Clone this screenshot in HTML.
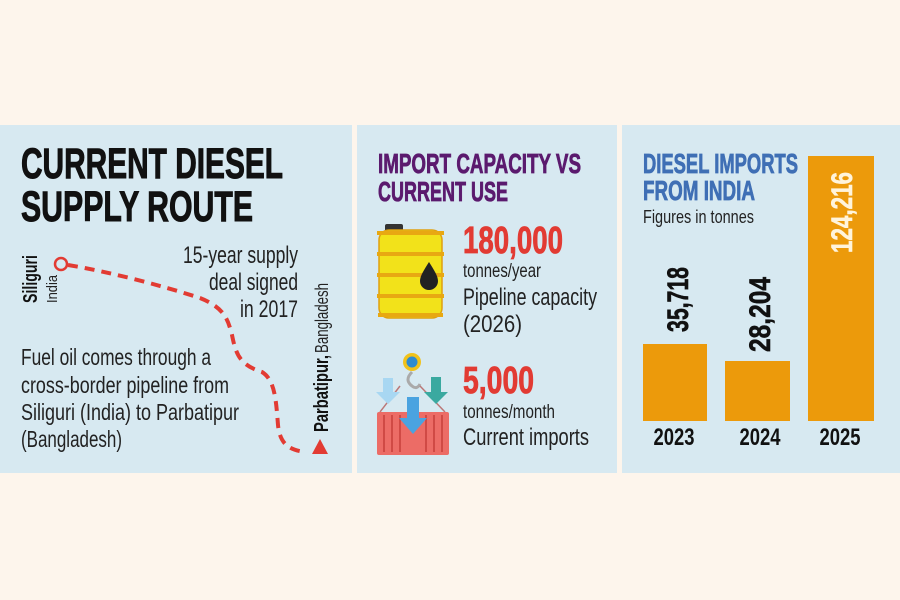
<!DOCTYPE html>
<html><head><meta charset="utf-8"><style>
html,body{margin:0;padding:0;background:#fdf5ec;}
svg{display:block}
text{font-family:"Liberation Sans",sans-serif}
</style></head><body>
<svg width="900" height="600" viewBox="0 0 900 600" xmlns="http://www.w3.org/2000/svg">
<rect width="900" height="600" fill="#fdf5ec"/>
<rect x="0" y="125" width="352" height="348" fill="#d7e9f1"/>
<rect x="357" y="125" width="260" height="348" fill="#d7e9f1"/>
<rect x="622" y="125" width="278" height="348" fill="#d7e9f1"/>

<!-- Panel 1 -->
<g font-weight="bold" fill="#111" font-size="43" stroke="#111" stroke-width="1">
<text x="21" y="178" textLength="262" lengthAdjust="spacingAndGlyphs">CURRENT DIESEL</text>
<text x="21" y="221" textLength="232" lengthAdjust="spacingAndGlyphs">SUPPLY ROUTE</text>
</g>
<g fill="#222" font-size="24" text-anchor="end">
<text x="298" y="263" textLength="115" lengthAdjust="spacingAndGlyphs">15-year supply</text>
<text x="298" y="290" textLength="89" lengthAdjust="spacingAndGlyphs">deal signed</text>
<text x="298" y="317" textLength="58" lengthAdjust="spacingAndGlyphs">in 2017</text>
</g>
<g fill="#222" font-size="23">
<text x="21" y="365" textLength="190" lengthAdjust="spacingAndGlyphs">Fuel oil comes through a</text>
<text x="21" y="393" textLength="208" lengthAdjust="spacingAndGlyphs">cross-border pipeline from</text>
<text x="21" y="420" textLength="218" lengthAdjust="spacingAndGlyphs">Siliguri (India) to Parbatipur</text>
<text x="21" y="447" textLength="101" lengthAdjust="spacingAndGlyphs">(Bangladesh)</text>
</g>
<text transform="translate(37,303) rotate(-90)" font-size="20" font-weight="bold" fill="#111" textLength="48" lengthAdjust="spacingAndGlyphs">Siliguri</text>
<text transform="translate(57,303) rotate(-90)" font-size="15" fill="#222" textLength="28" lengthAdjust="spacingAndGlyphs">India</text>
<text transform="translate(328,432) rotate(-90)" font-size="20" font-weight="bold" fill="#111" textLength="77" lengthAdjust="spacingAndGlyphs">Parbatipur,</text>
<text transform="translate(328,353) rotate(-90)" font-size="18" fill="#222" textLength="70" lengthAdjust="spacingAndGlyphs">Bangladesh</text>
<circle cx="61" cy="264" r="6" fill="none" stroke="#e23b33" stroke-width="2.5"/>
<path d="M68,265 C110,272 160,285 200,298 C225,308 228,320 232,335 C236,355 240,365 262,372 C275,380 276,400 278,425 C280,445 290,450 305,452" fill="none" stroke="#e23b33" stroke-width="4" stroke-dasharray="10,7"/>
<polygon points="312,454 320,439 328,454" fill="#e23b33"/>

<!-- Panel 2 -->
<g font-weight="bold" fill="#5b1a6e" font-size="28" stroke="#5b1a6e" stroke-width="0.8">
<text x="378" y="173" textLength="203" lengthAdjust="spacingAndGlyphs">IMPORT CAPACITY VS</text>
<text x="378" y="201" textLength="130" lengthAdjust="spacingAndGlyphs">CURRENT USE</text>
</g>
<!-- barrel -->
<rect x="385" y="224" width="18" height="8" rx="2" fill="#333"/>
<rect x="379" y="230" width="63" height="88" rx="10" fill="#f2e21a"/>
<rect x="379" y="230" width="63" height="88" rx="10" fill="none" stroke="#e0a010" stroke-width="1.5"/>
<g stroke="#e8a812" stroke-width="4">
<line x1="377" y1="233" x2="444" y2="233"/><line x1="377" y1="254" x2="444" y2="254"/>
<line x1="377" y1="275" x2="444" y2="275"/><line x1="377" y1="296" x2="444" y2="296"/>
<line x1="378" y1="315" x2="443" y2="315"/>
</g>
<path d="M429,262 C424,270 420,276 420,281 A9,9 0 0 0 438,281 C438,276 434,270 429,262Z" fill="#222"/>
<!-- crate -->
<circle cx="412" cy="362" r="9" fill="#f1c21b"/><circle cx="412" cy="362" r="5.5" fill="#2f8bd0"/>
<path d="M412,372 q-8,8 0,14 q5,4 8,-2" fill="none" stroke="#aaa" stroke-width="3"/>
<line x1="400" y1="386" x2="380" y2="412" stroke="#b77" stroke-width="1.5"/>
<line x1="420" y1="386" x2="445" y2="412" stroke="#b77" stroke-width="1.5"/>
<rect x="377" y="412" width="72" height="43" rx="2" fill="#ec6c66"/>
<g stroke="#d04a45" stroke-width="2">
<line x1="384" y1="415" x2="384" y2="452"/><line x1="392" y1="415" x2="392" y2="452"/><line x1="400" y1="415" x2="400" y2="452"/>
<line x1="426" y1="415" x2="426" y2="452"/><line x1="434" y1="415" x2="434" y2="452"/><line x1="442" y1="415" x2="442" y2="452"/>
</g>
<polygon points="383,378 393,378 393,392 400,392 388,404 376,392 383,392" fill="#a8d7f2"/>
<polygon points="431,377 441,377 441,392 448,392 436,404 424,392 431,392" fill="#3aa9a0"/>
<polygon points="407,397 419,397 419,418 427,418 413,434 399,418 407,418" fill="#4aa3e0"/>

<g font-weight="bold" fill="#e23b33" font-size="38" stroke="#e23b33" stroke-width="0.8">
<text x="463" y="253" textLength="100" lengthAdjust="spacingAndGlyphs">180,000</text>
<text x="463" y="393" textLength="71" lengthAdjust="spacingAndGlyphs">5,000</text>
</g>
<g fill="#222">
<text x="463" y="277" font-size="19" textLength="78" lengthAdjust="spacingAndGlyphs">tonnes/year</text>
<text x="463" y="305" font-size="24" textLength="134" lengthAdjust="spacingAndGlyphs">Pipeline capacity</text>
<text x="463" y="332" font-size="24" textLength="59" lengthAdjust="spacingAndGlyphs">(2026)</text>
<text x="463" y="418" font-size="19" textLength="92" lengthAdjust="spacingAndGlyphs">tonnes/month</text>
<text x="463" y="445" font-size="24" textLength="126" lengthAdjust="spacingAndGlyphs">Current imports</text>
</g>

<!-- Panel 3 -->
<g font-weight="bold" fill="#3f6fb5" font-size="28" stroke="#3f6fb5" stroke-width="0.8">
<text x="643" y="173" textLength="155" lengthAdjust="spacingAndGlyphs">DIESEL IMPORTS</text>
<text x="643" y="200" textLength="112" lengthAdjust="spacingAndGlyphs">FROM INDIA</text>
</g>
<text x="643" y="223" font-size="18" fill="#222" textLength="111" lengthAdjust="spacingAndGlyphs">Figures in tonnes</text>
<g fill="#ec9a0b">
<rect x="643" y="344" width="64" height="77"/>
<rect x="725" y="361" width="65" height="60"/>
<rect x="808" y="156" width="66" height="265"/>
</g>
<g font-weight="bold" font-size="30">
<text transform="translate(688,332) rotate(-90)" fill="#111" stroke="#111" stroke-width="0.6" textLength="65" lengthAdjust="spacingAndGlyphs">35,718</text>
<text transform="translate(770,352) rotate(-90)" fill="#111" stroke="#111" stroke-width="0.6" textLength="75" lengthAdjust="spacingAndGlyphs">28,204</text>
<text transform="translate(852,253) rotate(-90)" fill="#fff4dc" stroke="#fff4dc" stroke-width="0.6" textLength="81" lengthAdjust="spacingAndGlyphs">124,216</text>
</g>
<g font-weight="bold" font-size="24" fill="#111" text-anchor="middle">
<text x="674" y="445" textLength="41" lengthAdjust="spacingAndGlyphs">2023</text>
<text x="760" y="445" textLength="41" lengthAdjust="spacingAndGlyphs">2024</text>
<text x="840" y="445" textLength="41" lengthAdjust="spacingAndGlyphs">2025</text>
</g>
</svg>
</body></html>
